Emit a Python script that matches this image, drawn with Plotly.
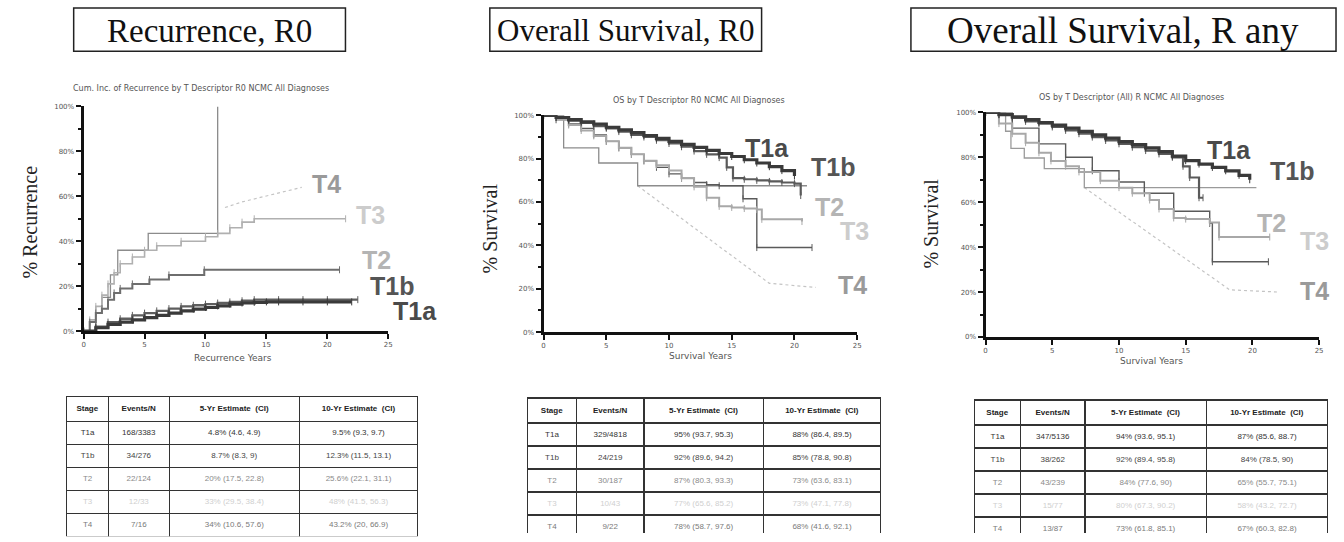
import plotly.graph_objects as go

W, H = 1344, 542

# ---------------- data ----------------
stages = ["T1a", "T1b", "T2", "T3", "T4"]
panel_titles = ["Recurrence, R0", "Overall Survival, R0", "Overall Survival, R any"]
panel_subtitles = [
    "Cum. Inc. of Recurrence by T Descriptor R0 NCMC All Diagnoses",
    "OS by T Descriptor R0 NCMC All Diagnoses",
    "OS by T Descriptor (All) R NCMC All Diagnoses",
]
y_titles = ["% Recurrence", "% Survival", "% Survival"]
x_titles = ["Recurrence Years", "Survival Years", "Survival Years"]
x_ticks = [0, 5, 10, 15, 20, 25]
y_ticks = [0, 20, 40, 60, 80, 100]
y_ticktext = ["0%", "20%", "40%", "60%", "80%", "100%"]

# Panel 1: cumulative incidence of recurrence (years, %)
rec_t1a_x = [0, 1, 2, 3, 4, 5, 6, 7, 8, 9, 10, 11, 12, 13, 14, 15, 16, 18, 20, 22]
rec_t1a_y = [0, 1.5, 3, 4, 5, 6, 7, 8, 9, 9.8, 10.5, 11.2, 12, 12.5, 12.8, 13, 13, 13, 13, 13]
rec_t1b_x = [0, 1, 2, 3, 4, 5, 6, 7, 8, 9, 10, 11, 12, 13, 14, 16, 18, 20, 22.5]
rec_t1b_y = [0, 2, 4, 5.5, 7, 8, 9, 10, 11, 11.5, 12, 12.5, 13, 13.5, 14, 14, 14, 14, 14]
rec_t2_x = [0, 0.5, 1, 1.5, 2, 2.5, 3, 4, 5.4, 7, 9.9, 21]
rec_t2_y = [0, 4, 8, 10, 14, 17, 19, 21, 23, 25, 27.3, 27.3]
rec_t3_x = [0, 0.5, 1, 1.5, 2, 2.5, 3, 4, 5, 6, 8, 10, 11, 12, 13, 14, 21.5]
rec_t3_y = [0, 5, 11, 16, 21, 26, 30, 33, 36, 38, 40, 42, 43.5, 46, 48.5, 50, 50]
rec_t4_x = [0, 1.0, 1.5, 2.2, 2.8, 5.3, 11]
rec_t4_y = [0, 8, 15, 25, 36, 43.5, 100]
rec_t4b_x = [11.6, 13, 14.5, 16, 17.9]
rec_t4b_y = [55, 57.5, 59.5, 61.5, 64]

# Panel 2: overall survival, R0 (years, %)
os0_t1a_x = [0, 1, 2, 3, 4, 5, 6, 7, 8, 9, 10, 11, 12, 13, 14, 15, 16, 17, 18, 19, 20]
os0_t1a_y = [100, 99, 98, 97, 96, 94.5, 93.3, 92, 90.7, 89.4, 88, 86.6, 85.2, 83.8, 82.4, 81, 79.5, 78, 76.3, 74.5, 72]
os0_t1b_x = [0, 1, 2, 3, 4, 5, 6, 7, 8, 9, 10, 11, 12, 13, 14, 14.6, 15.1, 16, 17, 18, 19, 20, 20.5]
os0_t1b_y = [100, 99, 97.5, 96.5, 95, 94, 92.5, 91, 90, 88.5, 87, 85.5, 83.5, 82, 80.5, 76, 71, 70.5, 70, 69.5, 69, 68.5, 63]
os0_t2_x = [0, 1, 2, 3, 4, 5, 6, 7, 8, 9, 10, 11, 12, 13, 14, 15, 16, 17, 17.4, 20.6]
os0_t2_y = [100, 98, 95.5, 93, 90.5, 88, 85, 82, 79, 77, 74.5, 71, 67, 62, 58, 57.5, 57, 56.5, 52, 51]
os0_t3_x = [0, 1, 2, 3, 4, 5, 6, 7, 8, 9, 10, 11, 12, 13, 14, 15.9, 17, 21.4]
os0_t3_y = [100, 98, 96, 94, 91, 88, 85, 82, 79, 76, 73, 71, 69, 68, 67.5, 61.5, 39, 39]
os0_t4_x = [0, 1.6, 4.4, 7.5, 21]
os0_t4_y = [100, 85, 78, 67.5, 67.5]
os0_t4b_x = [7.5, 10, 12, 14, 16, 18, 21.7]
os0_t4b_y = [67.5, 56.6, 48, 39.5, 31, 22.5, 20.6]

# Panel 3: overall survival, R any (years, %)
osa_t1a_x = [0, 1, 2, 3, 4, 5, 6, 7, 8, 9, 10, 11, 12, 13, 14, 15, 16, 17, 18, 19, 19.8]
osa_t1a_y = [100, 99, 98, 96.8, 95.5, 94.3, 93, 91.5, 90, 88.5, 87, 85.7, 84.2, 82.5, 80.5, 78.5, 77, 75.5, 74, 72, 70]
osa_t1b_x = [0, 1, 2, 3, 4, 5, 6, 7, 8, 9, 10, 11, 12, 13, 14, 14.8, 15.3, 16, 16.3]
osa_t1b_y = [100, 99, 97.5, 96, 95, 93.5, 92, 90.5, 89, 87.5, 86, 84.5, 83, 81.5, 80, 76, 71, 62, 62]
osa_t2_x = [0, 1, 2, 3, 4, 4.9, 6, 7, 8.6, 10, 11, 12.3, 13, 14.1, 15, 16.8, 17.5, 21.3]
osa_t2_y = [100, 95, 90.5, 86.5, 82, 78.4, 76, 73.5, 69.6, 66.5, 64, 61, 57, 53, 52.5, 51, 44.5, 44.5]
osa_t3_x = [0, 2, 4, 6, 8, 10, 11.9, 14.1, 16.8, 17, 21.2]
osa_t3_y = [100, 93, 86, 80, 74, 69, 64, 56, 50.6, 33.5, 33.5]
osa_t4_x = [0, 1.5, 1.9, 2.9, 4.4, 7.4, 20.3]
osa_t4_y = [100, 91.6, 84, 79.7, 75, 66.5, 66.5]
osa_t4b_x = [7.4, 10, 12, 14, 16, 18.3, 22]
osa_t4b_y = [66.5, 55.7, 47.3, 39, 30.6, 21, 20]

# Tables
table_header = ["Stage", "Events/N", "5-Yr Estimate  (CI)", "10-Yr Estimate  (CI)"]
rec_events = ["168/3383", "34/276", "22/124", "12/33", "7/16"]
rec_5yr = ["4.8% (4.6, 4.9)", "8.7% (8.3, 9)", "20% (17.5, 22.8)", "33% (29.5, 38.4)", "34% (10.6, 57.6)"]
rec_10yr = ["9.5% (9.3, 9.7)", "12.3% (11.5, 13.1)", "25.6% (22.1, 31.1)", "48% (41.5, 56.3)", "43.2% (20, 66.9)"]
os0_events = ["329/4818", "24/219", "30/187", "10/43", "9/22"]
os0_5yr = ["95% (93.7, 95.3)", "92% (89.6, 94.2)", "87% (80.3, 93.3)", "77% (65.6, 85.2)", "78% (58.7, 97.6)"]
os0_10yr = ["88% (86.4, 89.5)", "85% (78.8, 90.8)", "73% (63.6, 83.1)", "73% (47.1, 77.8)", "68% (41.6, 92.1)"]
osa_events = ["347/5136", "38/262", "43/239", "15/77", "13/87"]
osa_5yr = ["94% (93.6, 95.1)", "92% (89.4, 95.8)", "84% (77.6, 90)", "80% (67.3, 90.2)", "73% (61.8, 85.1)"]
osa_10yr = ["87% (85.6, 88.7)", "84% (78.5, 90)", "65% (55.7, 75.1)", "58% (43.2, 72.7)", "67% (60.3, 82.8)"]

# ---------------- layout geometry (pixels) ----------------
def px(x):
    return x / W

def py(y):
    return 1 - y / H

# plot areas: (x_left, x_right, y_top(100%), y_bottom(0%))
areas = [(82, 388, 104, 332), (544, 859, 113, 333), (988, 1323, 110, 338)]
title_boxes = [(72, 345, 4, 48), (490, 763, 4, 48), (913, 1340, 4, 48)]
title_sizes = [33, 31, 37]
subtitle_pos = [(200, 86), (700, 98), (1135, 95)]
ytitle_pos = [(28, 221), (490, 228), (933, 223)]
xtitle_pos = [(232, 359), (702, 357), (1155, 362)]
tables_geo = [
    (65, 418, 398, 541, [42, 61, 131, 119]),
    (528, 883, 400, 538, [49, 68, 120, 118]),
    (977, 1332, 402, 538, [46, 65, 122, 122]),
]
label_pos = [
    {"T4": (326, 183), "T3": (370, 214), "T2": (376, 260), "T1b": (392, 286), "T1a": (415, 312)},
    {"T1a": (768, 146), "T1b": (835, 165), "T2": (831, 206), "T3": (856, 230), "T4": (854, 285)},
    {"T1a": (1232, 148), "T1b": (1296, 170), "T2": (1275, 222), "T3": (1318, 241), "T4": (1318, 291)},
]
label_colors = {"T1a": "#4a4a4a", "T1b": "#555555", "T2": "#b4b4b4", "T3": "#cccccc", "T4": "#9a9a9a"}
row_colors = ["#333333", "#444444", "#8a8a8a", "#cfcfcf", "#7a7a7a"]

fig = go.Figure()

series = [
    [("T4", rec_t4_x, rec_t4_y), ("T3", rec_t3_x, rec_t3_y), ("T2", rec_t2_x, rec_t2_y),
     ("T1b", rec_t1b_x, rec_t1b_y), ("T1a", rec_t1a_x, rec_t1a_y)],
    [("T4", os0_t4_x, os0_t4_y), ("T3", os0_t3_x, os0_t3_y), ("T2", os0_t2_x, os0_t2_y),
     ("T1b", os0_t1b_x, os0_t1b_y), ("T1a", os0_t1a_x, os0_t1a_y)],
    [("T4", osa_t4_x, osa_t4_y), ("T3", osa_t3_x, osa_t3_y), ("T2", osa_t2_x, osa_t2_y),
     ("T1b", osa_t1b_x, osa_t1b_y), ("T1a", osa_t1a_x, osa_t1a_y)],
]
ext_series = [(rec_t4b_x, rec_t4b_y), (os0_t4b_x, os0_t4b_y), (osa_t4b_x, osa_t4b_y)]

styles = [
    {"T1a": ("#3a3a3a", 3.2), "T1b": ("#5e5e5e", 2.4), "T2": ("#6e6e6e", 2.0), "T3": ("#b0b0b0", 1.6), "T4": ("#8c8c8c", 1.3)},
    {"T1a": ("#3a3a3a", 3.2), "T1b": ("#5a5a5a", 2.2), "T2": ("#a8a8a8", 2.0), "T3": ("#5a5a5a", 1.4), "T4": ("#8c8c8c", 1.3)},
    {"T1a": ("#3a3a3a", 3.2), "T1b": ("#5a5a5a", 2.2), "T2": ("#a8a8a8", 2.0), "T3": ("#5a5a5a", 1.4), "T4": ("#9a9a9a", 1.3)},
]
with_markers = {"T1a", "T1b", "T2", "T3"}

for i in range(3):
    xa = "x" if i == 0 else f"x{i+1}"
    ya = "y" if i == 0 else f"y{i+1}"
    ex, ey = ext_series[i]
    fig.add_trace(go.Scatter(x=ex, y=ey, xaxis=xa, yaxis=ya, mode="lines",
                             line=dict(color="#c4c4c4", width=1.2, dash="dot"),
                             showlegend=False, hoverinfo="skip"))
    for name, xs, ys in series[i]:
        col, wd = styles[i][name]
        fig.add_trace(go.Scatter(
            x=xs, y=ys, xaxis=xa, yaxis=ya, name=name,
            mode="lines+markers" if name in with_markers else "lines",
            line=dict(color=col, width=wd, shape="hv"),
            marker=dict(symbol="line-ns", size=5, line=dict(width=1, color=col)),
            showlegend=False))

layout = dict(
    width=W, height=H, margin=dict(l=0, r=0, t=0, b=0),
    paper_bgcolor="white", plot_bgcolor="white", showlegend=False,
    shapes=[], annotations=[],
)
tickfont = dict(family="DejaVu Sans", size=7, color="#555555")
for i, (xl, xr, yt, yb) in enumerate(areas):
    xk = "xaxis" if i == 0 else f"xaxis{i+1}"
    yk = "yaxis" if i == 0 else f"yaxis{i+1}"
    xa = "x" if i == 0 else f"x{i+1}"
    ya = "y" if i == 0 else f"y{i+1}"
    layout[xk] = dict(domain=[px(xl), px(xr)], range=[0, 25], anchor=ya,
                      showline=True, linewidth=3, linecolor="#111111", mirror=False,
                      ticks="outside", ticklen=5, tickwidth=2, tickcolor="#111111",
                      tickvals=x_ticks, showgrid=False, zeroline=False, tickfont=tickfont)
    layout[yk] = dict(domain=[py(yb), py(yt)], range=[0, 100], anchor=xa,
                      showline=True, linewidth=3, linecolor="#111111",
                      ticks="outside", ticklen=5, tickwidth=2, tickcolor="#111111",
                      tickvals=y_ticks, ticktext=y_ticktext, showgrid=False, zeroline=False,
                      tickfont=tickfont,
                      minor=dict(dtick=10, ticks="outside", ticklen=3, tickwidth=1.5, tickcolor="#111111"))

def ann(text, x, y, font, **kw):
    d = dict(text=text, xref="paper", yref="paper", x=px(x), y=py(y), showarrow=False,
             xanchor="center", yanchor="middle", font=font)
    d.update(kw)
    layout["annotations"].append(d)

for i in range(3):
    x0, x1, y0, y1 = title_boxes[i]
    layout["shapes"].append(dict(type="rect", xref="paper", yref="paper",
                                 x0=px(x0), x1=px(x1), y0=py(y1), y1=py(y0),
                                 line=dict(color="#222222", width=1.5)))
    ann(panel_titles[i], (x0 + x1) / 2, (y0 + y1) / 2 + 1,
        dict(family="Liberation Serif", size=title_sizes[i], color="#111111"))
    sx, sy = subtitle_pos[i]
    ann(panel_subtitles[i], sx, sy, dict(family="DejaVu Sans", size=8, color="#555555"))
    tx, ty = ytitle_pos[i]
    ann(y_titles[i], tx, ty, dict(family="Liberation Serif", size=20, color="#222222"), textangle=-90)
    tx, ty = xtitle_pos[i]
    ann(x_titles[i], tx, ty, dict(family="DejaVu Sans", size=9, color="#555555"))
    for name, (lx, ly) in label_pos[i].items():
        ann(f"<b>{name}</b>", lx, ly, dict(family="Liberation Sans", size=25, color=label_colors[name]))

fig.update_layout(**layout)

table_data = [
    (rec_events, rec_5yr, rec_10yr),
    (os0_events, os0_5yr, os0_10yr),
    (osa_events, osa_5yr, osa_10yr),
]
for i in range(3):
    x0, x1, y0, y1, cw = tables_geo[i]
    ev, f5, f10 = table_data[i]
    fig.add_trace(go.Table(
        domain=dict(x=[px(x0), px(x1)], y=[py(y1), py(y0)]),
        columnwidth=cw,
        header=dict(values=[f"<b>{h}</b>" for h in table_header], align="center", height=23,
                    fill_color="white", line=dict(color="#333333", width=1.2),
                    font=dict(family="Liberation Sans", size=8, color="#222222")),
        cells=dict(values=[stages, ev, f5, f10], align="center", height=23,
                   fill_color="white", line=dict(color="#333333", width=1.2),
                   font=dict(family="Liberation Sans", size=8, color=[row_colors] * 4)),
    ))

fig.write_html("out.html", config={"displayModeBar": False},
               post_script="document.body.style.margin='0px';")
